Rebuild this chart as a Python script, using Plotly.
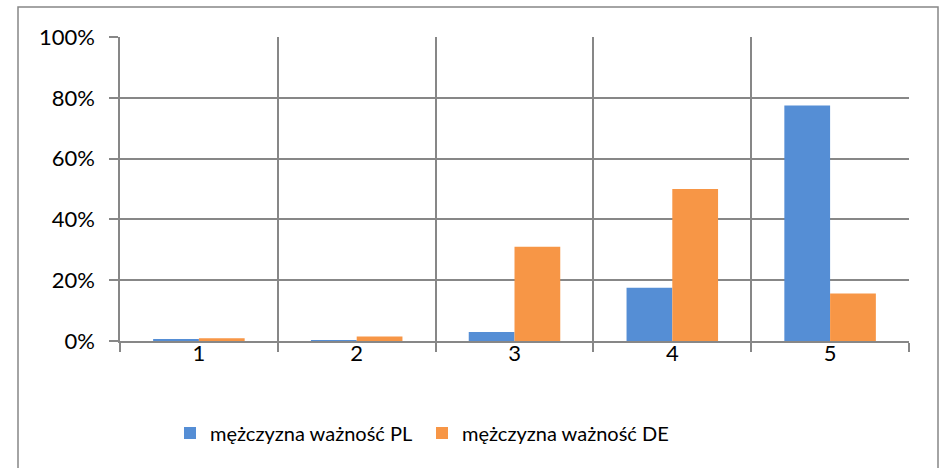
import plotly.graph_objects as go

categories = [1, 2, 3, 4, 5]
tick_labels = ["1", "2", "3", "4", "5"]
pl_values = [0.006, 0.003, 0.03, 0.175, 0.775]
de_values = [0.009, 0.015, 0.31, 0.50, 0.156]
series_names = ["mężczyzna ważność PL", "mężczyzna ważność DE"]
y_ticks = [0, 0.2, 0.4, 0.6, 0.8, 1.0]
y_tick_labels = ["0%", "20%", "40%", "60%", "80%", "100%"]

BLUE = "#558ED5"
ORANGE = "#F79646"
GRID = "#878787"
FONT = "Lato"

fig = go.Figure()
fig.add_trace(go.Bar(x=categories, y=pl_values, name=series_names[0],
                     marker=dict(color=BLUE, line=dict(width=0))))
fig.add_trace(go.Bar(x=categories, y=de_values, name=series_names[1],
                     marker=dict(color=ORANGE, line=dict(width=0))))

L, R, T, B = 120, 30, 37, 127
W, H = 939, 468
pw = W - L - R
ph = H - T - B

def px_x(x):
    return (x - L) / pw

def px_y(y):
    return (H - B - y) / ph

fig.update_layout(
    width=W, height=H,
    margin=dict(l=L, r=R, t=T, b=B, pad=0),
    paper_bgcolor="white", plot_bgcolor="white",
    barmode="group", bargap=0.42, bargroupgap=0,
    font=dict(family=FONT, size=20, color="black"),
    showlegend=True,
    legend=dict(orientation="h", x=px_x(170), y=px_y(433), xanchor="left", yanchor="middle",
                font=dict(family=FONT, size=20, color="black"),
                itemwidth=30, entrywidth=207, tracegroupgap=0, bgcolor="rgba(0,0,0,0)"),
    xaxis=dict(range=[0.5, 5.5], tickmode="array", tickvals=categories, ticktext=tick_labels,
               ticks="", showgrid=False, zeroline=False,
               showline=True, linecolor=GRID, linewidth=1.5,
               ticklabelstandoff=-8,
               tickfont=dict(family=FONT, size=22, color="black"),
               minor=dict(tickmode="array", tickvals=[0.5, 1.5, 2.5, 3.5, 4.5, 5.5],
                          showgrid=True, gridcolor=GRID, gridwidth=1.5,
                          ticks="outside", ticklen=9, tickcolor=GRID, tickwidth=1.5)),
    yaxis=dict(range=[0, 1], tickmode="array", tickvals=y_ticks, ticktext=y_tick_labels,
               ticks="outside", ticklen=9, tickcolor=GRID, tickwidth=1.5,
               showgrid=True, gridcolor=GRID, gridwidth=1.5,
               zeroline=False, showline=True, linecolor=GRID, linewidth=1.5,
               ticklabelstandoff=10,
               tickfont=dict(family=FONT, size=22, color="black")),
)

fig.add_shape(type="rect", xref="paper", yref="paper",
              x0=px_x(18), x1=px_x(938), y0=px_y(490), y1=px_y(7),
              line=dict(color=GRID, width=1.5), fillcolor="rgba(0,0,0,0)", layer="below")

fig.write_html("out.html", config={"displayModeBar": False},
               post_script="document.body.style.margin='0px';")
